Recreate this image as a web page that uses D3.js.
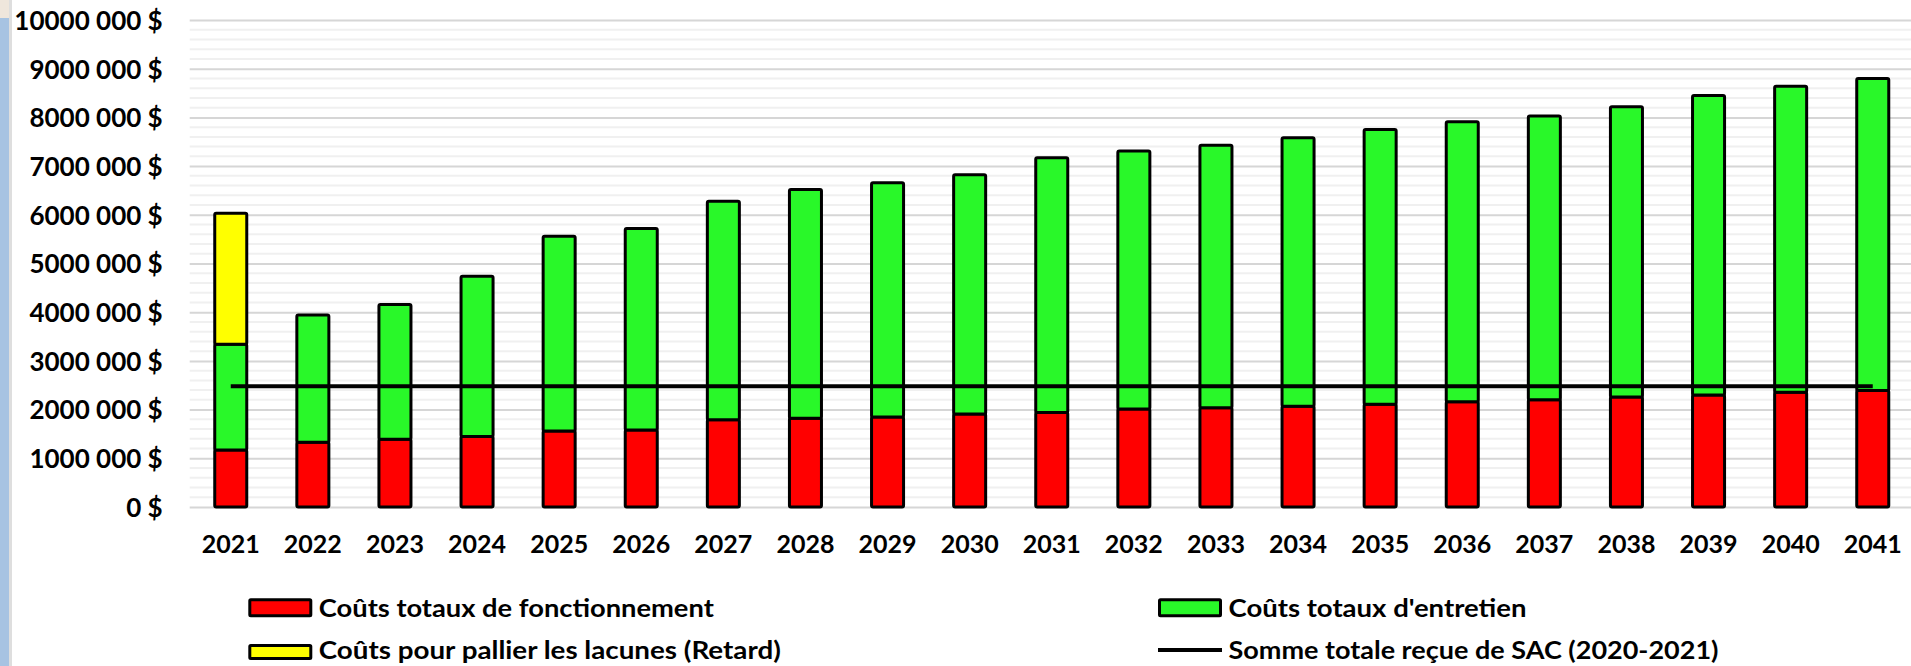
<!DOCTYPE html>
<html>
<head>
<meta charset="utf-8">
<script src="https://cdn.jsdelivr.net/npm/d3@7"></script>
<style>
  html, body { margin: 0; padding: 0; background: #fff; }
  svg { display: block; }
  text { font-family: Lato, "Noto Sans", sans-serif; font-weight: 700; fill: #000; }
</style>
</head>
<body>
<svg id="chart" width="1911" height="666"></svg>
<script>
// ---- data ----
const years = ["2021","2022","2023","2024","2025","2026","2027","2028","2029","2030",
               "2031","2032","2033","2034","2035","2036","2037","2038","2039","2040","2041"];
const coutsFonctionnement = [1170000,1330000,1390000,1450000,1560000,1580000,1790000,1820000,1850000,1910000,
                             1940000,2010000,2040000,2070000,2110000,2160000,2200000,2260000,2300000,2355000,2390000];
const coutsEntretien = [2170000,2610000,2770000,3290000,4000000,4140000,4490000,4700000,4810000,4910000,
                        5230000,5300000,5390000,5510000,5640000,5750000,5830000,5960000,6150000,6285000,6410000];
const coutsLacunes = [2690000,0,0,0,0,0,0,0,0,0,0,0,0,0,0,0,0,0,0,0,0];
const sommeSAC = [2480000,2480000,2480000,2480000,2480000,2480000,2480000,2480000,2480000,2480000,
                  2480000,2480000,2480000,2480000,2480000,2480000,2480000,2480000,2480000,2480000,2480000];
const yTickValues = [0,1000000,2000000,3000000,4000000,5000000,6000000,7000000,8000000,9000000,10000000];
const yTickLabels = ["0 $","1000 000 $","2000 000 $","3000 000 $","4000 000 $","5000 000 $",
                     "6000 000 $","7000 000 $","8000 000 $","9000 000 $","10000 000 $"];
const seriesNames = ["Coûts totaux de fonctionnement","Coûts totaux d'entretien",
                     "Coûts pour pallier les lacunes (Retard)","Somme totale reçue de SAC (2020-2021)"];

// ---- setup ----
const svg = d3.select("#chart");
const colors = { fonct: "#ff0000", entr: "#29f829", lac: "#ffff00" };

const x = d3.scaleBand().domain(years).range([189.7, 1913.8]).paddingInner(0.61).paddingOuter(0.305);
const y = d3.scaleLinear().domain([0, 10000000]).range([507, 20]);

// window edge artefact
svg.append("rect").attr("x",0).attr("y",0).attr("width",9).attr("height",666).attr("fill","#a7c3e2");
svg.append("rect").attr("x",0).attr("y",0).attr("width",9).attr("height",18).attr("fill","#efe6dc");
svg.append("rect").attr("x",9).attr("y",0).attr("width",3).attr("height",666).attr("fill","#dedede");

// minor gridlines
const minor = d3.range(200000, 10000000, 200000).filter(v => v % 1000000 !== 0);
svg.append("g").selectAll("line").data(minor).join("line")
  .attr("x1", 189.7).attr("x2", 1911)
  .attr("y1", d => y(d)).attr("y2", d => y(d))
  .attr("stroke", "#f0f0f0").attr("stroke-width", 2);

// y axis (major gridlines + labels)
const yAxis = d3.axisLeft(y).tickValues(yTickValues)
  .tickFormat((d, i) => yTickLabels[i]).tickSize(-(1911 - 189.7)).tickPadding(27);
const gy = svg.append("g").attr("transform", "translate(189.7,0)").call(yAxis);
gy.select(".domain").remove();
gy.selectAll(".tick line").attr("stroke", "#d6d6d6").attr("stroke-width", 2);
gy.selectAll(".tick text").attr("font-size", 26).attr("font-family", "Lato, sans-serif")
  .attr("font-weight", 700).attr("fill", "#000").attr("dy", "0.36em");

// x axis labels
const gx = svg.append("g").attr("transform", "translate(0,507)")
  .call(d3.axisBottom(x).tickSize(0).tickPadding(0));
gx.select(".domain").remove();
gx.selectAll(".tick text").attr("font-size", 25).attr("font-family", "Lato, sans-serif")
  .attr("font-weight", 700).attr("fill", "#000").attr("dy", null).attr("y", 46);

// stacked bars
const rows = years.map((yr, i) => ({ year: yr, fonct: coutsFonctionnement[i], entr: coutsEntretien[i], lac: coutsLacunes[i] }));
const stack = d3.stack().keys(["fonct", "entr", "lac"]);
const stacked = stack(rows);
const bw = x.bandwidth();
svg.append("g").selectAll("g").data(stacked).join("g")
  .attr("fill", d => colors[d.key])
  .selectAll("rect").data(d => d.filter(s => s[1] - s[0] > 0)).join("rect")
  .attr("x", d => x(d.data.year))
  .attr("width", bw)
  .attr("y", d => y(d[1]))
  .attr("height", d => y(d[0]) - y(d[1]))
  .attr("rx", 1.5)
  .attr("stroke", "#000").attr("stroke-width", 3);

// SAC line
const line = d3.line().x((d, i) => x(years[i]) + bw / 2).y(d => y(d));
svg.append("path").datum(sommeSAC).attr("d", line)
  .attr("fill", "none").attr("stroke", "#000").attr("stroke-width", 4);

// legend
const lg = svg.append("g");
const legendItems = [
  { name: seriesNames[0], type: "rect", fill: colors.fonct, sx: 249.8, sy: 599.8, sh: 16, ty: 617, w: 395 },
  { name: seriesNames[2], type: "rect", fill: colors.lac,   sx: 249.8, sy: 645.5, sh: 13, ty: 659, w: 462 },
  { name: seriesNames[1], type: "rect", fill: colors.entr,  sx: 1159.5, sy: 599.8, sh: 16, ty: 617, w: 298 },
  { name: seriesNames[3], type: "line", fill: "#000",       sx: 1159.5, sy: 650,   sh: 0,  ty: 659, w: 490 }
];
legendItems.forEach(it => {
  if (it.type === "rect") {
    lg.append("rect").attr("x", it.sx).attr("y", it.sy).attr("width", 61).attr("height", it.sh)
      .attr("fill", it.fill).attr("stroke", "#000").attr("stroke-width", 3).attr("rx", 1);
  } else {
    lg.append("line").attr("x1", it.sx - 1.5).attr("x2", it.sx + 62.5)
      .attr("y1", it.sy).attr("y2", it.sy).attr("stroke", "#000").attr("stroke-width", 4);
  }
  lg.append("text").attr("x", it.sx + 69).attr("y", it.ty).attr("font-size", 25)
    .attr("textLength", it.w).attr("lengthAdjust", "spacingAndGlyphs").text(it.name);
});
</script>
</body>
</html>
